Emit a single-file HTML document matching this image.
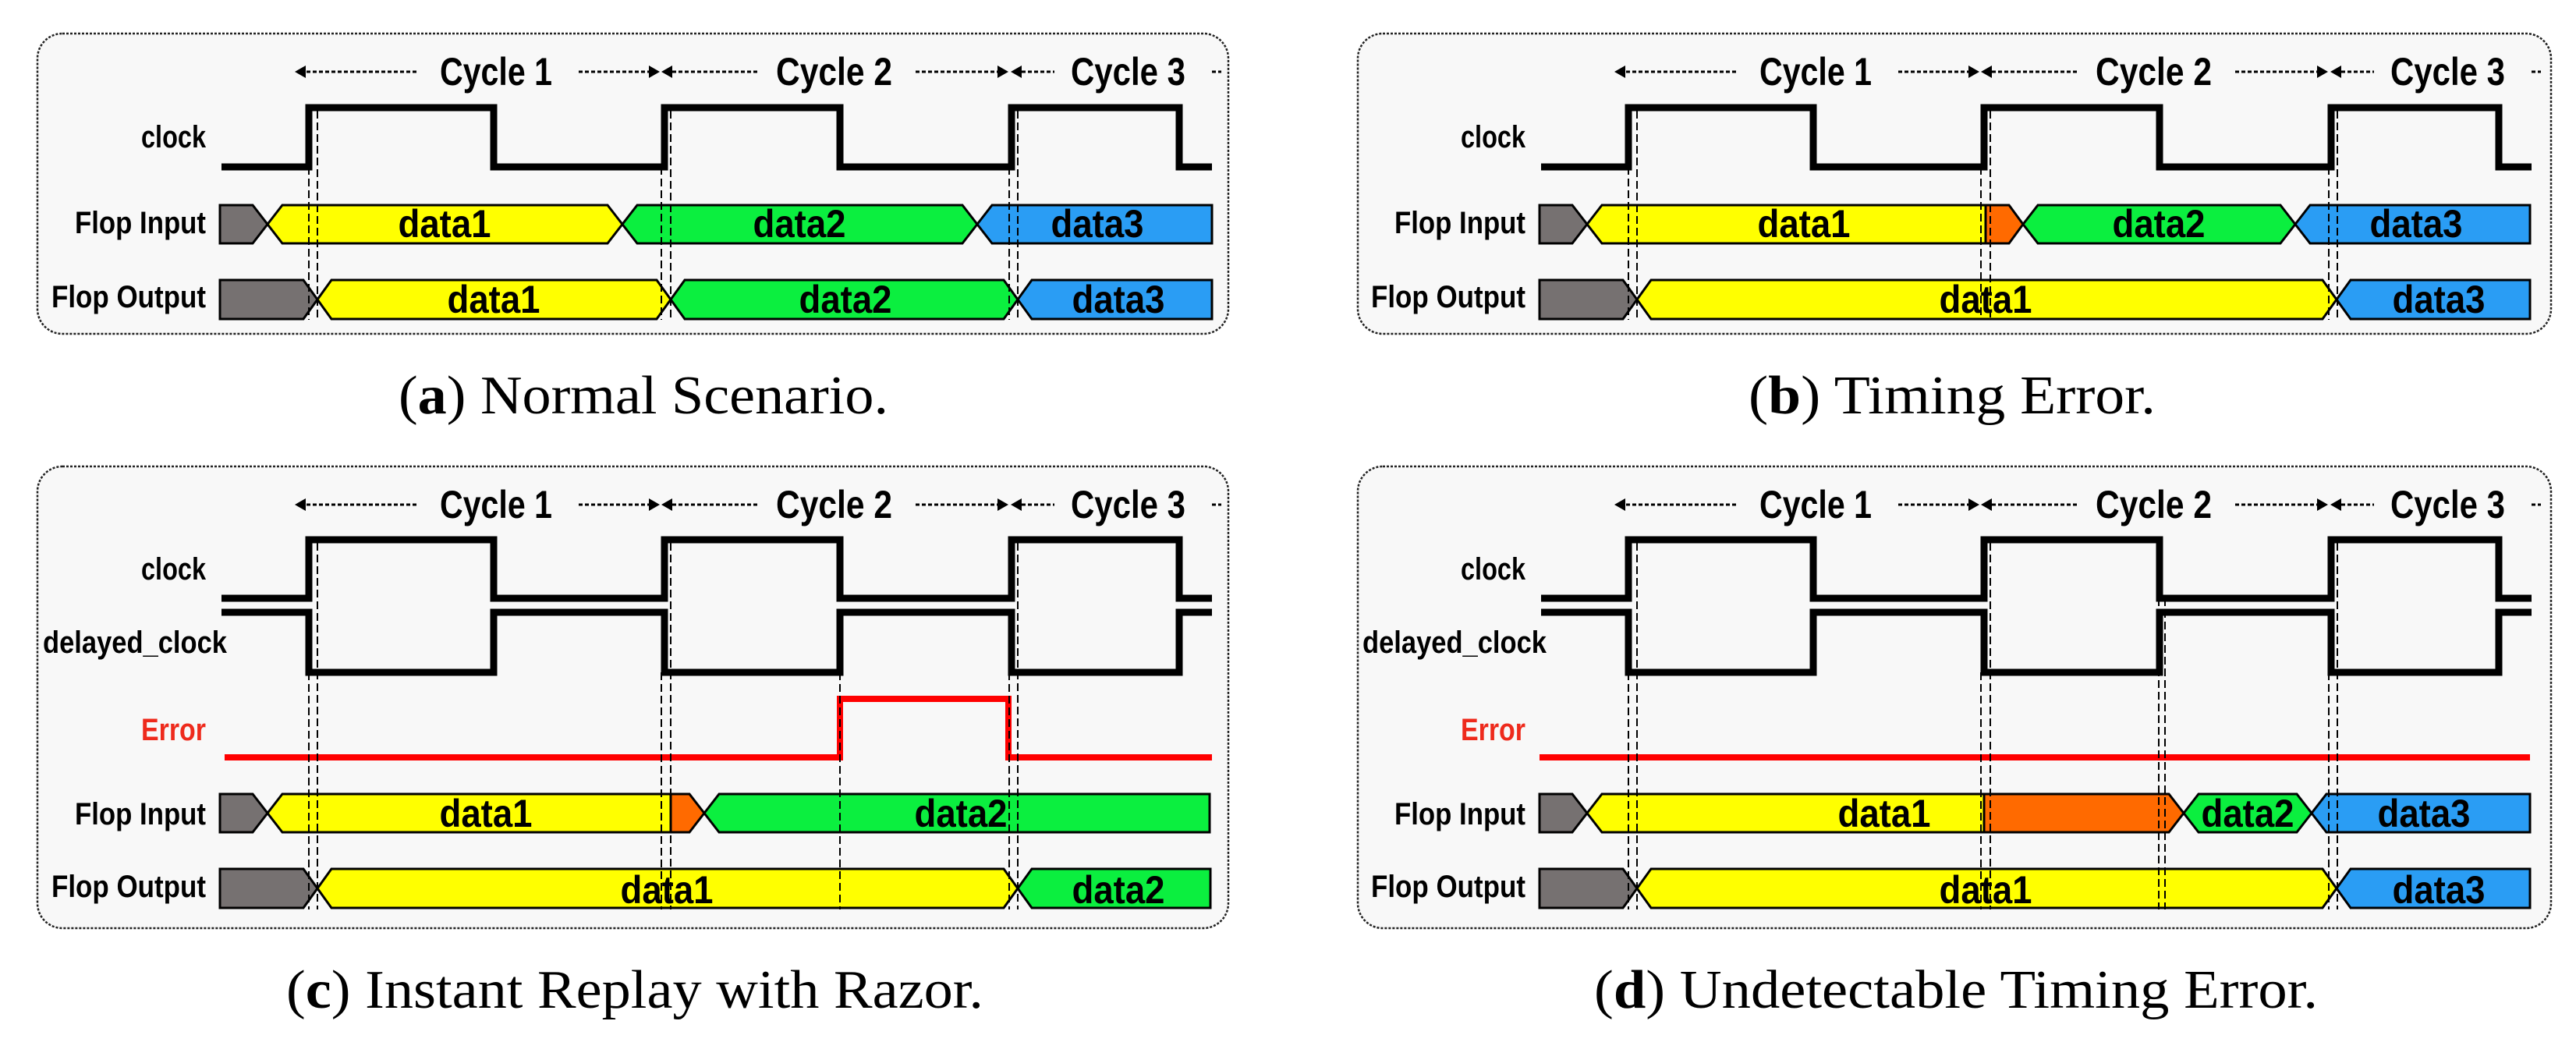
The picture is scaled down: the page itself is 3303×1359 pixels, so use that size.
<!DOCTYPE html>
<html><head><meta charset="utf-8"><style>
html,body{margin:0;padding:0;background:#fff;}
svg{display:block;}
.lb{font-family:"Liberation Sans",sans-serif;font-weight:bold;font-size:40px;}
.cy{font-family:"Liberation Sans",sans-serif;font-weight:bold;font-size:50px;}
.dt{font-family:"Liberation Sans",sans-serif;font-weight:bold;font-size:50px;}
.cap{font-family:"Liberation Serif",serif;font-size:70px;}
.dash{stroke:#000;stroke-width:2;stroke-dasharray:10 5;fill:none;}
.box{fill:#f8f8f8;stroke:#222;stroke-width:2.5;stroke-dasharray:3 2;}
.clk{fill:none;stroke:#000;stroke-width:9;stroke-linejoin:miter;}
.sh{stroke:#000;stroke-width:3;}
.ad{stroke:#000;stroke-width:3;stroke-dasharray:5 3;}
</style></head><body>
<svg width="3303" height="1359" viewBox="0 0 3303 1359" xmlns="http://www.w3.org/2000/svg">

<!-- ================= PANEL A ================= -->
<g>
<rect class="box" x="48" y="43" width="1527" height="385" rx="32"/>
<line class="ad" x1="385" y1="92" x2="537" y2="92"/>
<polygon points="378,92 392,84 392,100"/>
<text class="cy" x="564" y="109" textLength="144" lengthAdjust="spacingAndGlyphs">Cycle 1</text>
<line class="ad" x1="742" y1="92" x2="835" y2="92"/>
<polygon points="846,92 832,84 832,100"/><polygon points="848,92 862,84 862,100"/>
<line class="ad" x1="862" y1="92" x2="974" y2="92"/>
<text class="cy" x="995" y="109" textLength="149" lengthAdjust="spacingAndGlyphs">Cycle 2</text>
<line class="ad" x1="1174" y1="92" x2="1282" y2="92"/>
<polygon points="1293,92 1279,84 1279,100"/><polygon points="1296,92 1310,84 1310,100"/>
<line class="ad" x1="1310" y1="92" x2="1352" y2="92"/>
<text class="cy" x="1373" y="109" textLength="147" lengthAdjust="spacingAndGlyphs">Cycle 3</text>
<line class="ad" x1="1554" y1="92" x2="1566" y2="92"/>
<text class="lb" x="264" y="189" text-anchor="end" textLength="83" lengthAdjust="spacingAndGlyphs">clock</text>
<path class="clk" d="M284 214 H396 V138 H633 V214 H852 V138 H1077 V214 H1297 V138 H1512 V214 H1554"/>
<text class="lb" x="264" y="299" text-anchor="end" textLength="168" lengthAdjust="spacingAndGlyphs">Flop Input</text>
<text class="lb" x="264" y="394" text-anchor="end" textLength="198" lengthAdjust="spacingAndGlyphs">Flop Output</text>
<polygon class="sh" fill="#767171" points="282,263 324,263 343,287.5 324,312 282,312"/>
<polygon class="sh" fill="#ffff00" points="343,287.5 362,263 779,263 798,287.5 779,312 362,312"/>
<polygon class="sh" fill="#0bef3f" points="798,287.5 817,263 1234,263 1253,287.5 1234,312 817,312"/>
<polygon class="sh" fill="#2a9df4" points="1253,287.5 1272,263 1554,263 1554,312 1272,312"/>
<polygon class="sh" fill="#767171" points="282,359 389,359 407,384 389,409 282,409"/>
<polygon class="sh" fill="#ffff00" points="407,384 425,359 842,359 860,384 842,409 425,409"/>
<polygon class="sh" fill="#0bef3f" points="860,384 878,359 1287,359 1305,384 1287,409 878,409"/>
<polygon class="sh" fill="#2a9df4" points="1305,384 1323,359 1554,359 1554,409 1323,409"/>
<text class="dt" x="570" y="304" text-anchor="middle" textLength="119" lengthAdjust="spacingAndGlyphs">data1</text>
<text class="dt" x="1025" y="304" text-anchor="middle" textLength="119" lengthAdjust="spacingAndGlyphs">data2</text>
<text class="dt" x="1407" y="304" text-anchor="middle" textLength="119" lengthAdjust="spacingAndGlyphs">data3</text>
<text class="dt" x="633" y="401" text-anchor="middle" textLength="119" lengthAdjust="spacingAndGlyphs">data1</text>
<text class="dt" x="1084" y="401" text-anchor="middle" textLength="119" lengthAdjust="spacingAndGlyphs">data2</text>
<text class="dt" x="1434" y="401" text-anchor="middle" textLength="119" lengthAdjust="spacingAndGlyphs">data3</text>
<line class="dash" x1="396" y1="214" x2="396" y2="410"/><line class="dash" x1="407" y1="142" x2="407" y2="410"/>
<line class="dash" x1="848" y1="214" x2="848" y2="410"/><line class="dash" x1="860" y1="142" x2="860" y2="410"/>
<line class="dash" x1="1294" y1="214" x2="1294" y2="410"/><line class="dash" x1="1305" y1="142" x2="1305" y2="410"/>
<text class="cap" x="825" y="530" text-anchor="middle" textLength="628" lengthAdjust="spacingAndGlyphs">(<tspan font-weight="bold">a</tspan>) Normal Scenario.</text>
</g>

<!-- ================= PANEL B ================= -->
<g transform="translate(1692,0)">
<rect class="box" x="49" y="43" width="1530" height="385" rx="32"/>
<line class="ad" x1="385" y1="92" x2="537" y2="92"/>
<polygon points="378,92 392,84 392,100"/>
<text class="cy" x="564" y="109" textLength="144" lengthAdjust="spacingAndGlyphs">Cycle 1</text>
<line class="ad" x1="742" y1="92" x2="835" y2="92"/>
<polygon points="846,92 832,84 832,100"/><polygon points="848,92 862,84 862,100"/>
<line class="ad" x1="862" y1="92" x2="974" y2="92"/>
<text class="cy" x="995" y="109" textLength="149" lengthAdjust="spacingAndGlyphs">Cycle 2</text>
<line class="ad" x1="1174" y1="92" x2="1282" y2="92"/>
<polygon points="1293,92 1279,84 1279,100"/><polygon points="1296,92 1310,84 1310,100"/>
<line class="ad" x1="1310" y1="92" x2="1352" y2="92"/>
<text class="cy" x="1373" y="109" textLength="147" lengthAdjust="spacingAndGlyphs">Cycle 3</text>
<line class="ad" x1="1554" y1="92" x2="1566" y2="92"/>
<text class="lb" x="264" y="189" text-anchor="end" textLength="83" lengthAdjust="spacingAndGlyphs">clock</text>
<path class="clk" d="M284 214 H396 V138 H633 V214 H852 V138 H1077 V214 H1297 V138 H1512 V214 H1554"/>
<text class="lb" x="264" y="299" text-anchor="end" textLength="168" lengthAdjust="spacingAndGlyphs">Flop Input</text>
<text class="lb" x="264" y="394" text-anchor="end" textLength="198" lengthAdjust="spacingAndGlyphs">Flop Output</text>
<polygon class="sh" fill="#767171" points="282,263 324,263 343,287.5 324,312 282,312"/>
<polygon class="sh" fill="#ffff00" points="343,287.5 362,263 854,263 854,312 362,312"/>
<polygon class="sh" fill="#ff6a00" points="854,263 884,263 902,287.5 884,312 854,312"/>
<polygon class="sh" fill="#0bef3f" points="902,287.5 921,263 1232,263 1251,287.5 1232,312 921,312"/>
<polygon class="sh" fill="#2a9df4" points="1251,287.5 1270,263 1552,263 1552,312 1270,312"/>
<polygon class="sh" fill="#767171" points="282,359 389,359 407,384 389,409 282,409"/>
<polygon class="sh" fill="#ffff00" points="407,384 425,359 1286,359 1304,384 1286,409 425,409"/>
<polygon class="sh" fill="#2a9df4" points="1304,384 1322,359 1552,359 1552,409 1322,409"/>
<text class="dt" x="621" y="304" text-anchor="middle" textLength="119" lengthAdjust="spacingAndGlyphs">data1</text>
<text class="dt" x="1076" y="304" text-anchor="middle" textLength="119" lengthAdjust="spacingAndGlyphs">data2</text>
<text class="dt" x="1406" y="304" text-anchor="middle" textLength="119" lengthAdjust="spacingAndGlyphs">data3</text>
<text class="dt" x="854" y="401" text-anchor="middle" textLength="119" lengthAdjust="spacingAndGlyphs">data1</text>
<text class="dt" x="1435" y="401" text-anchor="middle" textLength="119" lengthAdjust="spacingAndGlyphs">data3</text>
<line class="dash" x1="396" y1="214" x2="396" y2="410"/><line class="dash" x1="407" y1="142" x2="407" y2="410"/>
<line class="dash" x1="848" y1="214" x2="848" y2="410"/><line class="dash" x1="860" y1="142" x2="860" y2="410"/>
<line class="dash" x1="1294" y1="214" x2="1294" y2="410"/><line class="dash" x1="1305" y1="142" x2="1305" y2="410"/>
<text class="cap" x="811" y="530" text-anchor="middle" textLength="522" lengthAdjust="spacingAndGlyphs">(<tspan font-weight="bold">b</tspan>) Timing Error.</text>
</g>

<!-- ================= PANEL C ================= -->
<g>
<rect class="box" x="48" y="598" width="1527" height="592" rx="32"/>
<line class="ad" x1="385" y1="647" x2="537" y2="647"/>
<polygon points="378,647 392,639 392,655"/>
<text class="cy" x="564" y="664" textLength="144" lengthAdjust="spacingAndGlyphs">Cycle 1</text>
<line class="ad" x1="742" y1="647" x2="835" y2="647"/>
<polygon points="846,647 832,639 832,655"/><polygon points="848,647 862,639 862,655"/>
<line class="ad" x1="862" y1="647" x2="974" y2="647"/>
<text class="cy" x="995" y="664" textLength="149" lengthAdjust="spacingAndGlyphs">Cycle 2</text>
<line class="ad" x1="1174" y1="647" x2="1282" y2="647"/>
<polygon points="1293,647 1279,639 1279,655"/><polygon points="1296,647 1310,639 1310,655"/>
<line class="ad" x1="1310" y1="647" x2="1352" y2="647"/>
<text class="cy" x="1373" y="664" textLength="147" lengthAdjust="spacingAndGlyphs">Cycle 3</text>
<line class="ad" x1="1554" y1="647" x2="1566" y2="647"/>
<text class="lb" x="264" y="743" text-anchor="end" textLength="83" lengthAdjust="spacingAndGlyphs">clock</text>
<text class="lb" x="291" y="837" text-anchor="end" textLength="236" lengthAdjust="spacingAndGlyphs">delayed_clock</text>
<text class="lb" x="264" y="949" text-anchor="end" textLength="83" lengthAdjust="spacingAndGlyphs" fill="#ee2a1c">Error</text>
<path class="clk" d="M284 767 H396 V692 H633 V767 H852 V692 H1077 V767 H1297 V692 H1512 V767 H1554"/>
<path class="clk" d="M284 785 H396 V862 H633 V785 H852 V862 H1077 V785 H1297 V862 H1512 V785 H1554"/>
<path d="M288 971 H1077 V896 H1293 V971 H1554" fill="none" stroke="#ff0000" stroke-width="8"/>
<text class="lb" x="264" y="1057" text-anchor="end" textLength="168" lengthAdjust="spacingAndGlyphs">Flop Input</text>
<text class="lb" x="264" y="1150" text-anchor="end" textLength="198" lengthAdjust="spacingAndGlyphs">Flop Output</text>
<polygon class="sh" fill="#767171" points="282,1018 324,1018 343,1042.5 324,1067 282,1067"/>
<polygon class="sh" fill="#ffff00" points="343,1042.5 362,1018 860,1018 860,1067 362,1067"/>
<polygon class="sh" fill="#ff6a00" points="860,1018 884,1018 903,1042.5 884,1067 860,1067"/>
<polygon class="sh" fill="#0bef3f" points="903,1042.5 922,1018 1551,1018 1551,1067 922,1067"/>
<polygon class="sh" fill="#767171" points="282,1114 389,1114 407,1139 389,1164 282,1164"/>
<polygon class="sh" fill="#ffff00" points="407,1139 425,1114 1287,1114 1305,1139 1287,1164 425,1164"/>
<polygon class="sh" fill="#0bef3f" points="1305,1139 1323,1114 1552,1114 1552,1164 1323,1164"/>
<text class="dt" x="623" y="1060" text-anchor="middle" textLength="119" lengthAdjust="spacingAndGlyphs">data1</text>
<text class="dt" x="1232" y="1060" text-anchor="middle" textLength="119" lengthAdjust="spacingAndGlyphs">data2</text>
<text class="dt" x="855" y="1158" text-anchor="middle" textLength="119" lengthAdjust="spacingAndGlyphs">data1</text>
<text class="dt" x="1434" y="1158" text-anchor="middle" textLength="119" lengthAdjust="spacingAndGlyphs">data2</text>
<line class="dash" x1="396" y1="862" x2="396" y2="1166"/><line class="dash" x1="407" y1="696" x2="407" y2="1166"/>
<line class="dash" x1="848" y1="862" x2="848" y2="1166"/><line class="dash" x1="860" y1="696" x2="860" y2="1166"/>
<line class="dash" x1="1294" y1="862" x2="1294" y2="1166"/><line class="dash" x1="1305" y1="696" x2="1305" y2="1166"/>
<line class="dash" x1="1077" y1="862" x2="1077" y2="1166"/>
<text class="cap" x="814" y="1292" text-anchor="middle" textLength="894" lengthAdjust="spacingAndGlyphs">(<tspan font-weight="bold">c</tspan>) Instant Replay with Razor.</text>
</g>

<!-- ================= PANEL D ================= -->
<g transform="translate(1692,0)">
<rect class="box" x="49" y="598" width="1530" height="592" rx="32"/>
<line class="ad" x1="385" y1="647" x2="537" y2="647"/>
<polygon points="378,647 392,639 392,655"/>
<text class="cy" x="564" y="664" textLength="144" lengthAdjust="spacingAndGlyphs">Cycle 1</text>
<line class="ad" x1="742" y1="647" x2="835" y2="647"/>
<polygon points="846,647 832,639 832,655"/><polygon points="848,647 862,639 862,655"/>
<line class="ad" x1="862" y1="647" x2="974" y2="647"/>
<text class="cy" x="995" y="664" textLength="149" lengthAdjust="spacingAndGlyphs">Cycle 2</text>
<line class="ad" x1="1174" y1="647" x2="1282" y2="647"/>
<polygon points="1293,647 1279,639 1279,655"/><polygon points="1296,647 1310,639 1310,655"/>
<line class="ad" x1="1310" y1="647" x2="1352" y2="647"/>
<text class="cy" x="1373" y="664" textLength="147" lengthAdjust="spacingAndGlyphs">Cycle 3</text>
<line class="ad" x1="1554" y1="647" x2="1566" y2="647"/>
<text class="lb" x="264" y="743" text-anchor="end" textLength="83" lengthAdjust="spacingAndGlyphs">clock</text>
<text class="lb" x="291" y="837" text-anchor="end" textLength="236" lengthAdjust="spacingAndGlyphs">delayed_clock</text>
<text class="lb" x="264" y="949" text-anchor="end" textLength="83" lengthAdjust="spacingAndGlyphs" fill="#ee2a1c">Error</text>
<path class="clk" d="M284 767 H396 V692 H633 V767 H852 V692 H1077 V767 H1297 V692 H1512 V767 H1554"/>
<path class="clk" d="M284 785 H396 V862 H633 V785 H852 V862 H1077 V785 H1297 V862 H1512 V785 H1554"/>
<path d="M282 971 H1552" fill="none" stroke="#ff0000" stroke-width="8"/>
<text class="lb" x="264" y="1057" text-anchor="end" textLength="168" lengthAdjust="spacingAndGlyphs">Flop Input</text>
<text class="lb" x="264" y="1150" text-anchor="end" textLength="198" lengthAdjust="spacingAndGlyphs">Flop Output</text>
<polygon class="sh" fill="#767171" points="282,1018 324,1018 343,1042.5 324,1067 282,1067"/>
<polygon class="sh" fill="#ffff00" points="343,1042.5 362,1018 852,1018 852,1067 362,1067"/>
<polygon class="sh" fill="#ff6a00" points="852,1018 1089,1018 1108,1042.5 1089,1067 852,1067"/>
<polygon class="sh" fill="#0bef3f" points="1108,1042.5 1127,1018 1253,1018 1272,1042.5 1253,1067 1127,1067"/>
<polygon class="sh" fill="#2a9df4" points="1272,1042.5 1291,1018 1552,1018 1552,1067 1291,1067"/>
<polygon class="sh" fill="#767171" points="282,1114 389,1114 407,1139 389,1164 282,1164"/>
<polygon class="sh" fill="#ffff00" points="407,1139 425,1114 1286,1114 1304,1139 1286,1164 425,1164"/>
<polygon class="sh" fill="#2a9df4" points="1304,1139 1322,1114 1552,1114 1552,1164 1322,1164"/>
<text class="dt" x="724" y="1060" text-anchor="middle" textLength="119" lengthAdjust="spacingAndGlyphs">data1</text>
<text class="dt" x="1190" y="1060" text-anchor="middle" textLength="119" lengthAdjust="spacingAndGlyphs">data2</text>
<text class="dt" x="1416" y="1060" text-anchor="middle" textLength="119" lengthAdjust="spacingAndGlyphs">data3</text>
<text class="dt" x="854" y="1158" text-anchor="middle" textLength="119" lengthAdjust="spacingAndGlyphs">data1</text>
<text class="dt" x="1435" y="1158" text-anchor="middle" textLength="119" lengthAdjust="spacingAndGlyphs">data3</text>
<line class="dash" x1="396" y1="862" x2="396" y2="1166"/><line class="dash" x1="407" y1="696" x2="407" y2="1166"/>
<line class="dash" x1="848" y1="862" x2="848" y2="1166"/><line class="dash" x1="860" y1="696" x2="860" y2="1166"/>
<line class="dash" x1="1294" y1="862" x2="1294" y2="1166"/><line class="dash" x1="1305" y1="696" x2="1305" y2="1166"/>
<line class="dash" x1="1076" y1="767" x2="1076" y2="1166"/><line class="dash" x1="1084" y1="767" x2="1084" y2="1166"/>
<text class="cap" x="816" y="1292" text-anchor="middle" textLength="928" lengthAdjust="spacingAndGlyphs">(<tspan font-weight="bold">d</tspan>) Undetectable Timing Error.</text>
</g>
</svg>
</body></html>
